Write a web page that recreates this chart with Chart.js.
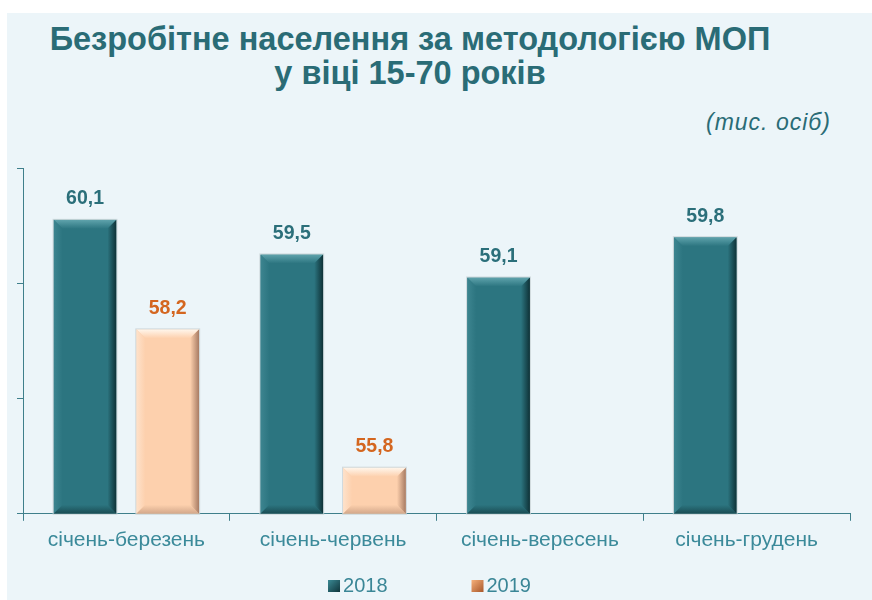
<!DOCTYPE html>
<html>
<head>
<meta charset="utf-8">
<script src="https://cdn.jsdelivr.net/npm/chart.js@4.4.0/dist/chart.umd.min.js"></script>
<style>
  html,body{margin:0;padding:0;background:#ffffff;width:872px;height:600px;overflow:hidden;}
  #bg{position:absolute;left:7px;top:13px;width:865px;height:587px;background:#ecf5f9;}
  #wrap{position:absolute;left:0;top:0;width:872px;height:600px;}
  .t{position:absolute;font-family:"Liberation Sans",Arial,sans-serif;font-weight:bold;color:#2a6c76;white-space:nowrap;text-align:center;}
  #t1{left:0;width:820px;top:21px;font-size:32.5px;}
  #t2{left:0;width:820px;top:55px;font-size:32.5px;}
  #unit{position:absolute;left:706px;top:109px;font-family:"Liberation Sans",Arial,sans-serif;font-style:italic;font-size:23px;letter-spacing:1px;color:#2a6c76;white-space:nowrap;}
</style>
</head>
<body>
<div id="bg"></div>
<div class="t" id="t1">Безробітне населення за методологією МОП</div>
<div class="t" id="t2">у віці 15-70 років</div>
<div id="unit">(тис. осіб)</div>
<div id="wrap"><canvas id="c" width="872" height="600"></canvas></div>
<script>
const categories = ['січень-березень', 'січень-червень', 'січень-вересень', 'січень-грудень'];
const seriesNames = ['2018', '2019'];
const values2018 = [60.1, 59.5, 59.1, 59.8];
const values2019 = [58.2, 55.8, null, null];
const yMin = 55, yMax = 61, yStep = 2;

const faceColors = ['#2c7580', '#fdd0ad'];
const labelColors = ['#2b6f7a', '#d4661f'];
const bevel = [
  {top:'#5fa3ac', left:'#3d8590', right:'#0e3136', bottom:'#1a4c53'},
  {top:'#fff6ec', left:'#fee2cb', right:'#a67a62', bottom:'#d2a78a'}
];

function fmt(v){ return v.toFixed(1).replace('.', ','); }

const bevelPlugin = {
  id: 'bevel',
  afterDatasetsDraw(chart) {
    const ctx = chart.ctx;
    const ca = chart.chartArea;
    chart.data.datasets.forEach((ds, di) => {
      const meta = chart.getDatasetMeta(di);
      const bc = bevel[di];
      meta.data.forEach((el, i) => {
        if (ds.data[i] == null) return;
        const p = el.getProps(['x','y','base','width'], true);
        const l = p.x - p.width/2, r = p.x + p.width/2, t = p.y, b = Math.min(p.base, ca.bottom);
        const s = 9;
        ctx.save();
        let g = ctx.createLinearGradient(0, t, 0, t + s);
        g.addColorStop(0, bc.top); g.addColorStop(1, faceColors[di]);
        ctx.fillStyle = g;
        ctx.beginPath(); ctx.moveTo(l, t); ctx.lineTo(r, t); ctx.lineTo(r - s, t + s); ctx.lineTo(l + s, t + s); ctx.closePath(); ctx.fill();
        g = ctx.createLinearGradient(l, 0, l + s, 0);
        g.addColorStop(0, bc.left); g.addColorStop(1, faceColors[di]);
        ctx.fillStyle = g;
        ctx.beginPath(); ctx.moveTo(l, t); ctx.lineTo(l + s, t + s); ctx.lineTo(l + s, b - s); ctx.lineTo(l, b); ctx.closePath(); ctx.fill();
        g = ctx.createLinearGradient(0, b - s, 0, b);
        g.addColorStop(0, faceColors[di]); g.addColorStop(1, bc.bottom);
        ctx.fillStyle = g;
        ctx.beginPath(); ctx.moveTo(l, b); ctx.lineTo(r, b); ctx.lineTo(r - s, b - s); ctx.lineTo(l + s, b - s); ctx.closePath(); ctx.fill();
        g = ctx.createLinearGradient(r - s, 0, r, 0);
        g.addColorStop(0, faceColors[di]); g.addColorStop(1, bc.right);
        ctx.fillStyle = g;
        ctx.beginPath(); ctx.moveTo(r, t); ctx.lineTo(r, b); ctx.lineTo(r - s, b - s); ctx.lineTo(r - s, t + s); ctx.closePath(); ctx.fill();
        ctx.strokeStyle = 'rgba(200,210,214,0.8)'; ctx.lineWidth = 1;
        ctx.strokeRect(l - 0.5, t - 0.5, p.width + 1, b - t + 1);
        ctx.fillStyle = labelColors[di];
        ctx.font = 'bold 19.5px "Liberation Sans", Arial, sans-serif';
        ctx.textAlign = 'center'; ctx.textBaseline = 'middle';
        ctx.fillText(fmt(ds.data[i]), p.x, t - 21);
        ctx.restore();
      });
    });
  }
};

const legendPlugin = {
  id: 'customLegend',
  afterDraw(chart) {
    const ctx = chart.ctx;
    const ca = chart.chartArea;
    ctx.save();
    ctx.font = '20px "Liberation Sans", Arial, sans-serif';
    ctx.textBaseline = 'alphabetic'; ctx.textAlign = 'left';
    const box = 12, gapBoxText = 3, gapItems = 84;
    const widths = chart.data.datasets.map(ds => box + gapBoxText + ctx.measureText(ds.label).width);
    const total = widths.reduce((a, w) => a + w, 0) + gapItems * (widths.length - 1);
    let x = (ca.left + ca.right) / 2 - 7 - total / 2;
    const base = 592;
    chart.data.datasets.forEach((ds, di) => {
      const g = ctx.createLinearGradient(x, base - box, x + box, base);
      if (di === 0) { g.addColorStop(0, '#3b8a95'); g.addColorStop(1, '#0f343a'); }
      else { g.addColorStop(0, '#f6b07a'); g.addColorStop(1, '#a8572a'); }
      ctx.fillStyle = g;
      ctx.fillRect(x, base - box, box, box);
      ctx.fillStyle = '#3a8696';
      ctx.fillText(ds.label, x + box + gapBoxText, base);
      x += widths[di] + gapItems;
    });
    ctx.restore();
  }
};

new Chart(document.getElementById('c'), {
  type: 'bar',
  data: {
    labels: categories,
    datasets: [
      { label: seriesNames[0], data: values2018, backgroundColor: faceColors[0], categoryPercentage: 0.8, barPercentage: 0.76 },
      { label: seriesNames[1], data: values2019, backgroundColor: faceColors[1], categoryPercentage: 0.8, barPercentage: 0.76 }
    ]
  },
  options: {
    responsive: false,
    animation: false,
    layout: { padding: { left: 17, right: 22, top: 168, bottom: 40 } },
    plugins: { legend: { display: false }, tooltip: { enabled: false }, title: { display: false } },
    scales: {
      x: {
        grid: { display: true, drawOnChartArea: false, drawTicks: true, tickLength: 7, color: '#3f7f8b', offset: true },
        border: { display: true, color: '#3f7f8b', width: 1 },
        ticks: { color: '#3b8a9a', font: { family: '"Liberation Sans", Arial, sans-serif', size: 21 }, padding: 7, maxRotation: 0 }
      },
      y: {
        min: yMin, max: yMax,
        grid: { display: true, drawOnChartArea: false, drawTicks: true, tickLength: 6, color: '#3f7f8b' },
        border: { display: true, color: '#3f7f8b', width: 1 },
        ticks: { display: false, stepSize: yStep }
      }
    }
  },
  plugins: [bevelPlugin, legendPlugin]
});
</script>
</body>
</html>
